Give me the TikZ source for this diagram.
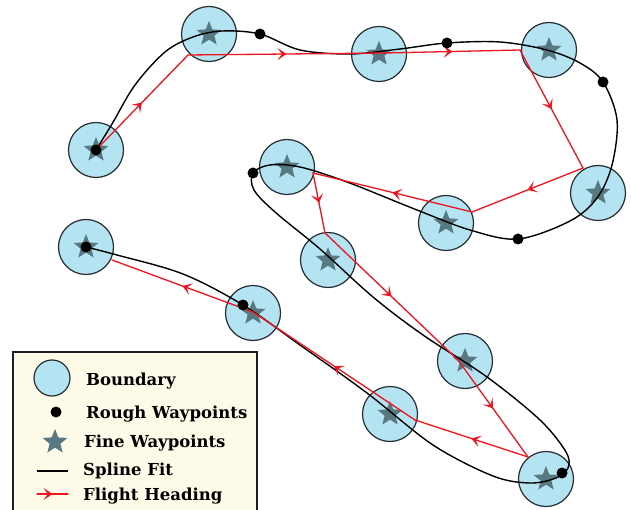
\documentclass[tikz,border=0pt]{standalone}
\usepackage{fontspec}
\setmainfont{DejaVu Serif}
\usetikzlibrary{shapes.geometric,decorations.markings,arrows.meta}
\definecolor{bndfill}{RGB}{180,228,242}
\definecolor{bnddraw}{RGB}{40,45,50}
\definecolor{starcol}{RGB}{88,120,130}
\definecolor{legfill}{RGB}{253,251,232}
\definecolor{legframe}{RGB}{30,30,30}
\definecolor{headred}{RGB}{240,20,30}
\tikzset{
 boundary/.style={circle, draw=bnddraw, fill=bndfill, line width=1.2pt, minimum size=55pt, inner sep=0pt},
 finewp/.style={star, star points=5, star point ratio=2.3, fill=starcol, draw=none, minimum size=26pt, inner sep=0pt},
 roughwp/.style={circle, fill=black, minimum size=11pt, inner sep=0pt},
 splinefit/.style={draw=black, line width=1.4pt},
 heading/.style={draw=headred, line width=1.3pt, line cap=round, postaction={decorate},
   decoration={markings, mark=at position 0.5 with {\arrow{Stealth[length=9pt,width=12pt,inset=4.5pt,color=headred]}}}},
 legtext/.style={anchor=base west, font=\bfseries\fontsize{16.5}{19}\selectfont, inner sep=0pt},
}
\begin{document}
\begin{tikzpicture}[x=1pt,y=-1pt]
\useasboundingbox (0,0) rectangle (631,510);
\clip (0,0) rectangle (631,510);
\fill[white] (0,0) rectangle (631,510);
% boundaries
\foreach \n/\p in {1/{(96,150)},2/{(209,34)},3/{(379,54)},4/{(549,50)},5/{(598,193)},6/{(446,223)},7/{(287,167)},8/{(328,260)},9/{(465,361)},10/{(546,479)},11/{(390,414)},12/{(253,313)},13/{(86,247)}}{
  \node[boundary] (c\n) at \p {};
  \node[finewp] (s\n) at \p {};
}
% spline fit
\draw[splinefit] plot[smooth, tension=0.55] coordinates {
(96,150) (112,124) (135,85) (165,52) (193,37) (222,31) (260,34) (300,50) (350,54) (400,49) (447,43) (500,42) (547,50) (580,63) (603,82) (617,120) (612,165) (597,198) (570,221) (518,239) (470,230) (417,210) (347,182) (300,167) (270,165) (253,173) (254,190) (275,212) (320,249) (373,297) (423,335) (487,377) (540,420) (566,452) (568,468) (556,478) (530,483) (493,476) (433,445) (367,393) (300,345) (243,305) (183,274) (117,255) (86,247)};
% flight heading
\coordinate (r1) at (96,150);
\coordinate (r2) at (188,55);
\coordinate (r3) at (385,53);
\coordinate (r4) at (520,50);
\coordinate (r5) at (583,168);
\coordinate (r6) at (472,212);
\coordinate (r7) at (313,173);
\coordinate (r8) at (325,233);
\coordinate (r9) at (458,360);
\coordinate (r10) at (528,457);
\coordinate (r11) at (415,420);
\coordinate (r12) at (253,312);
\coordinate (r13) at (112,260);
\foreach \a/\b in {1/2,2/3,3/4,4/5,5/6,6/7,7/8,8/9,9/10,10/11,11/12,12/13}{
  \draw[heading] (r\a) -- (r\b);
}
% rough waypoints
\foreach \n/\p in {1/{(96,150)},2/{(260,34)},3/{(447,43)},4/{(603,82)},5/{(518,239)},6/{(253,173)},7/{(562,473)},8/{(243,305)},9/{(86,247)}}{
  \node[roughwp] (d\n) at \p {};
}
% legend
\draw[draw=legframe, fill=legfill, line width=2pt] (13,352) rectangle (257,525);
\node[boundary, minimum size=36pt] (lc) at (52,378) {};
\node[roughwp] (ld) at (56,412) {};
\node[finewp] (ls) at (55,442) {};
\coordinate (lsa) at (37,471);
\coordinate (lsb) at (68,471);
\draw[splinefit] (lsa) -- (lsb);
\coordinate (lha) at (37,494);
\coordinate (lhb) at (68,494);
\draw[heading] (lha) -- (lhb);
\node[legtext] (t1) at (86,385) {Boundary};
\node[legtext] (t2) at (86,418) {Rough Waypoints};
\node[legtext] (t3) at (84,447) {Fine Waypoints};
\node[legtext] (t4) at (83,475) {Spline Fit};
\node[legtext] (t5) at (83,500) {Flight Heading};
\end{tikzpicture}
\end{document}
